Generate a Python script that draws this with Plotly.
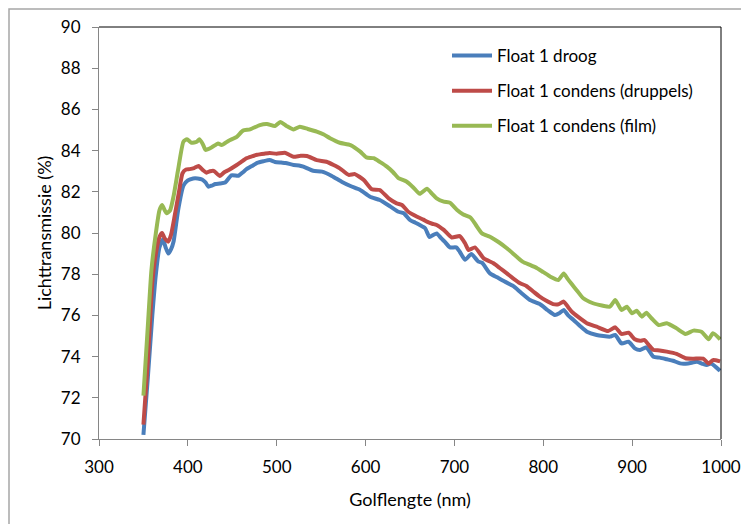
import plotly.graph_objects as go

# ---- data ----
wl_droog = [350, 355, 360, 364, 368, 372, 375, 378, 381, 384, 389, 395, 400, 406, 411, 416, 420, 423, 427, 431,
            436, 442, 449, 457, 462, 466, 472, 478, 485, 492, 498, 505, 510, 519, 525, 530, 541, 551, 562, 573,
            583, 594, 605, 616, 628, 637, 643, 650, 656, 661, 667, 672, 676, 680, 685, 689, 695, 702, 706, 712,
            719, 727, 731, 740, 748, 755, 766, 775, 785, 796, 805, 813, 818, 823, 828, 834, 841, 849, 860, 875,
            881, 888, 896, 903, 909, 916, 924, 931, 939, 946, 954, 963, 973, 979, 984, 989, 994, 999]
t_droog = [70.2, 73.0, 76.0, 78.0, 79.3, 79.7, 79.3, 79.0, 79.2, 79.6, 81.1, 82.3, 82.55, 82.65, 82.65, 82.6, 82.45, 82.25, 82.3, 82.38,
           82.4, 82.45, 82.8, 82.78, 82.95, 83.1, 83.25, 83.4, 83.48, 83.54, 83.45, 83.42, 83.4, 83.3, 83.28, 83.22, 83.02, 82.98, 82.77, 82.49,
           82.28, 82.09, 81.76, 81.6, 81.28, 81.03, 80.96, 80.63, 80.5, 80.39, 80.23, 79.8, 79.9, 79.98, 79.75, 79.58, 79.3, 79.3, 79.09, 78.7,
           78.98, 78.61, 78.56, 78.04, 77.85, 77.68, 77.43, 77.1, 76.75, 76.55, 76.25, 76.02, 76.1, 76.26, 76.0, 75.78, 75.5, 75.21, 75.05, 74.97,
           75.05, 74.64, 74.72, 74.4, 74.32, 74.45, 73.99, 73.95, 73.87, 73.8, 73.67, 73.67, 73.75, 73.65, 73.59, 73.67, 73.5, 73.31]

wl_druppels = [350, 355, 360, 364, 368, 371, 374, 378, 381, 385, 390, 394, 398, 402, 407, 412, 417, 421, 425, 429,
               436, 441, 446, 455, 460, 466, 472, 478, 486, 492, 500, 509, 514, 519, 527, 534, 545, 556, 564, 571,
               581, 588, 598, 607, 616, 626, 635, 641, 648, 658, 665, 669, 675, 680, 688, 697, 706, 712, 716, 723,
               733, 744, 751, 759, 766, 774, 781, 789, 796, 803, 811, 817, 823, 828, 832, 840, 849, 860, 873, 881,
               888, 896, 903, 909, 914, 919, 924, 931, 939, 950, 960, 969, 980, 986, 991, 999]
t_druppels = [70.7, 73.8, 77.6, 79.0, 79.8, 80.0, 79.74, 79.58, 79.9, 80.79, 82.0, 82.9, 83.08, 83.1, 83.15, 83.25, 83.05, 82.93, 83.0, 83.02,
              82.77, 82.95, 83.06, 83.3, 83.45, 83.63, 83.72, 83.8, 83.85, 83.88, 83.85, 83.9, 83.8, 83.7, 83.75, 83.74, 83.54, 83.46, 83.3, 83.14,
              82.82, 82.86, 82.57, 82.12, 82.09, 81.68, 81.44, 81.36, 81.03, 80.79, 80.65, 80.55, 80.45, 80.39, 80.15, 79.78, 79.85, 79.5, 79.17, 79.3,
              78.77, 78.53, 78.3, 78.04, 77.8, 77.56, 77.43, 77.15, 76.91, 76.72, 76.55, 76.54, 76.67, 76.4, 76.18, 75.9, 75.62, 75.45, 75.24, 75.42,
              75.1, 75.16, 74.84, 74.77, 74.8, 74.55, 74.32, 74.3, 74.24, 74.13, 73.92, 73.9, 73.9, 73.67, 73.83, 73.77]

wl_film = [350, 355, 359, 364, 368, 371, 374, 376, 380, 384, 389, 395, 399, 404, 410, 413, 417, 420, 427, 434,
           438, 446, 455, 462, 470, 481, 489, 498, 504, 511, 519, 526, 535, 545, 553, 560, 571, 583, 594, 601,
           609, 616, 624, 631, 637, 646, 654, 661, 669, 675, 680, 688, 695, 703, 710, 718, 724, 731, 740, 750,
           759, 770, 777, 785, 793, 800, 808, 817, 823, 827, 832, 838, 845, 856, 866, 875, 881, 888, 894, 900,
           905, 911, 916, 922, 930, 939, 950, 960, 969, 978, 986, 991, 999]
t_film = [72.1, 75.5, 78.2, 80.0, 81.1, 81.36, 81.1, 80.96, 81.1, 81.8, 83.06, 84.43, 84.55, 84.38, 84.43, 84.55, 84.3, 84.03, 84.16, 84.35,
          84.27, 84.48, 84.67, 84.97, 85.03, 85.24, 85.29, 85.19, 85.39, 85.2, 85.03, 85.16, 85.05, 84.92, 84.78, 84.6, 84.38, 84.27, 83.95, 83.67,
          83.63, 83.45, 83.22, 82.95, 82.66, 82.5, 82.2, 81.9, 82.15, 81.9, 81.68, 81.52, 81.47, 81.12, 80.9, 80.75, 80.4, 79.98, 79.82, 79.55,
          79.26, 78.85, 78.6, 78.45, 78.29, 78.1, 77.88, 77.72, 78.04, 77.8, 77.52, 77.2, 76.83, 76.59, 76.48, 76.42, 76.75, 76.26, 76.42, 76.1,
          76.23, 75.94, 76.13, 75.85, 75.53, 75.62, 75.37, 75.1, 75.26, 75.21, 74.84, 75.13, 74.84]

series_names = ["Float 1 droog", "Float 1 condens (druppels)", "Float 1 condens (film)"]
series_colors = ["#4A7EBB", "#BE4B48", "#98B954"]
x_ticks = [300, 400, 500, 600, 700, 800, 900, 1000]
y_ticks = [70, 72, 74, 76, 78, 80, 82, 84, 86, 88, 90]

FONT = "Lato, Open Sans, sans-serif"

fig = go.Figure()
for i, (xs, ys) in enumerate([(wl_droog, t_droog), (wl_druppels, t_druppels), (wl_film, t_film)]):
    fig.add_trace(go.Scatter(
        x=xs, y=ys, mode="lines", name=series_names[i],
        line=dict(color=series_colors[i], width=4, shape="spline", smoothing=0.5),
        legendgroup=f"g{i}",
    ))

# page body has an 8px offset; figure coordinates = screen - 8
OFF = 8
W, H = 741, 516
SL, SR, ST, SB = 99, 721, 27, 439          # plot area in screen px
L, T = SL - OFF, ST - OFF
R = W - (SR - OFF)
B = H - (SB - OFF)
pw, ph = SR - SL, SB - ST

def px(xs):
    return (xs - SL) / pw

def py(ys):
    return (SB - ys) / ph

fig.update_layout(
    width=W, height=H,
    margin=dict(l=L, r=R, t=T, b=B, autoexpand=False),
    paper_bgcolor="white", plot_bgcolor="white",
    font=dict(family=FONT, size=17, color="black"),
    showlegend=True,
    legend=dict(
        x=px(447), y=py(38), xanchor="left", yanchor="top",
        bgcolor="rgba(0,0,0,0)", font=dict(size=17, family=FONT),
        tracegroupgap=10, itemwidth=40,
    ),
    xaxis=dict(
        range=[300, 1000], tickvals=x_ticks, ticktext=[str(v) for v in x_ticks],
        showgrid=False, zeroline=False, showline=True, linecolor="#868686", linewidth=1,
        ticks="outside", ticklen=6, tickcolor="#868686", ticklabelstandoff=7,
        tickfont=dict(size=17), automargin=False,
        title=dict(text="Golflengte (nm)", standoff=16, font=dict(size=18)),
    ),
    yaxis=dict(
        range=[70, 90], tickvals=y_ticks, ticktext=[str(v) for v in y_ticks],
        showgrid=False, zeroline=False, showline=True, linecolor="#868686", linewidth=1,
        ticks="outside", ticklen=6, tickcolor="#868686", ticklabelstandoff=8,
        tickfont=dict(size=17), automargin=False,
        title=dict(text="Lichttransmissie (%)", standoff=4, font=dict(size=18)),
    ),
    shapes=[
        dict(type="line", xref="paper", yref="paper", x0=0, x1=1, y0=1, y1=1,
             line=dict(color="black", width=1)),
        dict(type="line", xref="paper", yref="paper", x0=1, x1=1, y0=0, y1=1,
             line=dict(color="black", width=1)),
        dict(type="rect", xref="paper", yref="paper",
             x0=px(9), x1=px(770), y0=py(540), y1=py(9),
             line=dict(color="#A6A6A6", width=1.5), layer="below"),
    ],
)

fig.write_html("out.html")
